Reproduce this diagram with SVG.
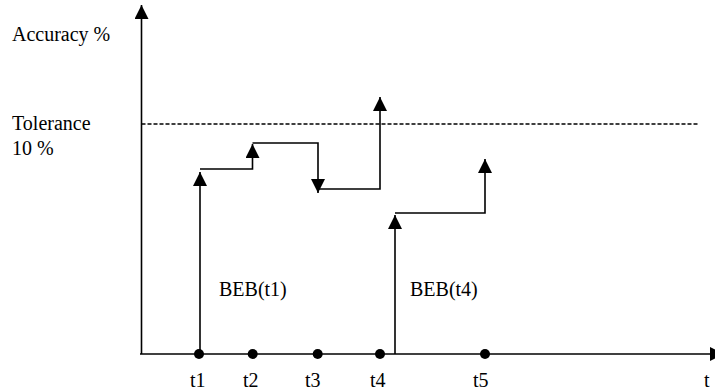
<svg xmlns="http://www.w3.org/2000/svg" width="715" height="392" viewBox="0 0 715 392">
<style>
  text { font-family: "Liberation Serif", "Times New Roman", serif; font-size: 20px; fill: #000; }
  .ln { fill: none; stroke: #000; stroke-width: 1.6; }
  .dash { fill: none; stroke: #000; stroke-width: 1.4; stroke-dasharray: 4 2; }
  .dot { fill: #000; }
</style>
<defs>
  <marker id="ah" markerUnits="userSpaceOnUse" markerWidth="14" markerHeight="14" refX="14" refY="7" orient="auto">
    <path d="M0,0 L14,7 L0,14 Z" fill="#000"/>
  </marker>
</defs>
<g id="labels">
  <text x="12" y="40.5">Accuracy %</text>
  <text x="12" y="130">Tolerance</text>
  <text x="12" y="154.5">10 %</text>
  <text x="219" y="295.5">BEB(t1)</text>
  <text x="410" y="295.5">BEB(t4)</text>
</g>
<g id="axes">
  <path class="ln" d="M141.5,354 V5" marker-end="url(#ah)"/>
  <path class="ln" d="M140,354 H724" marker-end="url(#ah)"/>
  <path class="dash" d="M141.5,124 H698"/>
</g>
<g id="connectors">
  <path class="ln" d="M200,354 V172" marker-end="url(#ah)"/>
  <path class="ln" d="M200,169 H252.5 V144" marker-end="url(#ah)"/>
  <path class="ln" d="M252.5,143 H318 V193" marker-end="url(#ah)"/>
  <path class="ln" d="M318,189 H380 V97" marker-end="url(#ah)"/>
  <path class="ln" d="M395,354 V215" marker-end="url(#ah)"/>
  <path class="ln" d="M395,213 H485 V159" marker-end="url(#ah)"/>
</g>
<g id="t1"><circle class="dot" cx="199" cy="354" r="5"/><text x="190" y="386.5">t1</text></g>
<g id="t2"><circle class="dot" cx="252.7" cy="354" r="5"/><text x="243" y="386.5">t2</text></g>
<g id="t3"><circle class="dot" cx="317.7" cy="354" r="5"/><text x="305" y="386.5">t3</text></g>
<g id="t4"><circle class="dot" cx="380" cy="354" r="5"/><text x="370" y="386.5">t4</text></g>
<g id="t5"><circle class="dot" cx="485" cy="354" r="5"/><text x="473" y="386.5">t5</text></g>
<g id="t"><text x="704" y="386.5">t</text></g>
</svg>
